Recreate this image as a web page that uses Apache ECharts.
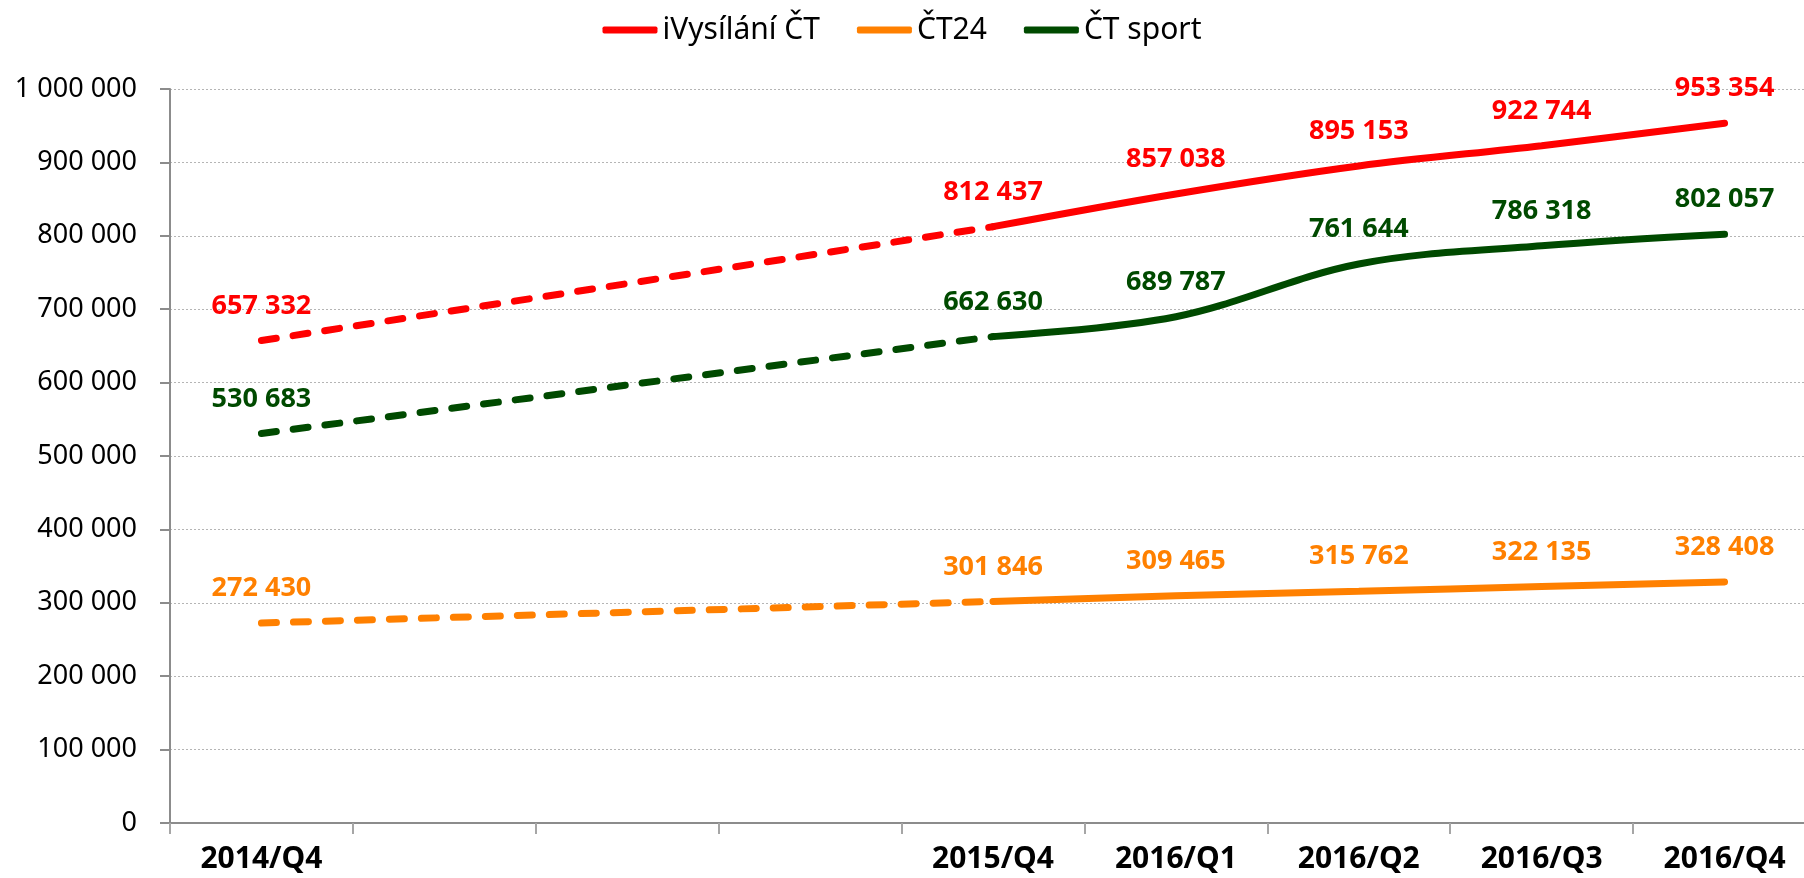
<html>
<head>
<meta charset="utf-8">
<title>iVysílání ČT</title>
<script src="https://cdn.jsdelivr.net/npm/echarts@6/dist/echarts.min.js"></script>
<style>
  html, body, #main { margin: 0; width: 100%; height: 100%; background: #fff; }
</style>
</head>
<body>
<div id="main"></div>
<script>
// quarters; the three empty slots have no data and no label in the source
var categories = ['2014/Q4', '', '', '', '2015/Q4', '2016/Q1', '2016/Q2', '2016/Q3', '2016/Q4'];

var ivysilani = [657332, null, null, null, 812437, 857038, 895153, 922744, 953354];
var ct24      = [272430, null, null, null, 301846, 309465, 315762, 322135, 328408];
var ctSport   = [530683, null, null, null, 662630, 689787, 761644, 786318, 802057];

var yTicks = { min: 0, max: 1000000, interval: 100000 };

var FONT = 'Noto Sans';

function fmt(v) {
    return String(v).replace(/\B(?=(\d{3})+(?!\d))/g, ' ');
}

// first gap is drawn dashed (straight), the rest solid and smoothed
function dashedPart(values) {
    var last = values.findIndex(function (v, i) { return i > 0 && v != null; });
    return values.map(function (v, i) {
        if (i > last) return null;
        return { value: v, label: { show: i === 0 } };
    });
}
function solidPart(values) {
    var first = values.findIndex(function (v, i) { return i > 0 && v != null; });
    return values.map(function (v, i) { return i < first ? null : v; });
}

function makeSeries(name, color, values) {
    var label = {
        show: true,
        position: 'top',
        distance: 21,
        color: color,
        fontFamily: FONT,
        fontWeight: 'bold',
        fontSize: 27,
        formatter: function (p) { return fmt(p.value); }
    };
    return [{
        name: name,
        type: 'line',
        data: dashedPart(values),
        connectNulls: true,
        symbol: 'circle',
        symbolSize: 0.1,
        itemStyle: { color: color },
        lineStyle: { color: color, width: 7, type: [15, 17], cap: 'round' },
        label: label,
        z: 2
    }, {
        name: name,
        type: 'line',
        data: solidPart(values),
        smooth: 0.35,
        symbol: 'circle',
        symbolSize: 0.1,
        itemStyle: { color: color },
        lineStyle: { color: color, width: 7, cap: 'round' },
        label: label,
        z: 3
    }];
}

var chart = echarts.init(document.getElementById('main'));

chart.setOption({
    animation: false,
    textStyle: { fontFamily: FONT },
    legend: {
        top: 10,
        left: 'center',
        data: ['iVysílání ČT', 'ČT24', 'ČT sport'],
        icon: 'roundRect',
        itemWidth: 55,
        itemHeight: 7,
        itemGap: 37,
        textStyle: { fontFamily: FONT, fontSize: 30, color: '#000' }
    },
    // plot runs past the right edge of the picture, as in the source
    grid: { left: 170, width: 1646, top: 89, bottom: 55, outerBoundsMode: 'none', containLabel: false },
    xAxis: {
        type: 'category',
        data: categories,
        boundaryGap: true,
        axisLine: { lineStyle: { color: '#8c8c8c', width: 2 } },
        axisTick: { show: true, length: 11, lineStyle: { color: '#a6a6a6', width: 2 } },
        axisLabel: {
            interval: 0,
            margin: 21,
            color: '#000',
            fontFamily: FONT,
            fontWeight: 'bold',
            fontSize: 30
        }
    },
    yAxis: {
        type: 'value',
        min: yTicks.min,
        max: yTicks.max,
        interval: yTicks.interval,
        axisLine: { show: true, lineStyle: { color: '#8c8c8c', width: 2 } },
        axisTick: { show: true, length: 10, lineStyle: { color: '#8c8c8c', width: 2 } },
        splitLine: { lineStyle: { color: '#b5b5b5', width: 1, type: [2, 2] } },
        axisLabel: {
            margin: 33,
            color: '#000',
            fontFamily: FONT,
            fontSize: 27,
            formatter: fmt
        }
    },
    series: [].concat(
        makeSeries('iVysílání ČT', '#ff0000', ivysilani),
        makeSeries('ČT24', '#ff8000', ct24),
        makeSeries('ČT sport', '#004a00', ctSport)
    )
});

window.addEventListener('resize', function () { chart.resize(); });
</script>
</body>
</html>
